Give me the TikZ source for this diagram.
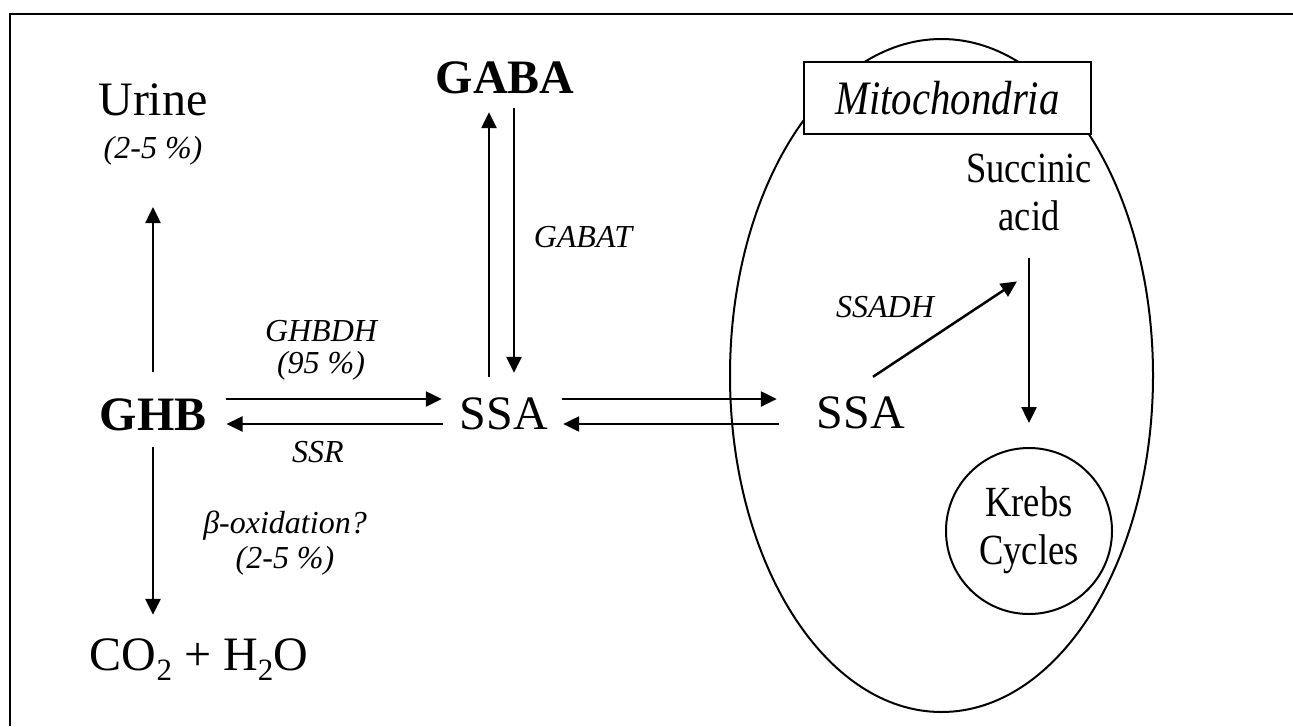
\documentclass[tikz,border=0pt]{standalone}
\usepackage{fontspec}
\setmainfont{Liberation Serif}
\usepackage{graphicx}
\usetikzlibrary{arrows.meta,calc}
\tikzset{
  big/.style={font=\fontsize{48}{52}\selectfont, inner sep=0pt, text height=32pt, text depth=0pt},
  lbl/.style={font=\fontsize{32}{32}\selectfont\itshape, inner sep=0pt},
  arr/.style={line width=2.5pt, -{Triangle[length=16pt,width=15pt]}},
}
\newcommand{\sqz}[1]{\scalebox{0.85}[1]{#1}}
\begin{document}
\begin{tikzpicture}[x=1pt,y=-1pt]
\useasboundingbox (0,0) rectangle (1293,726);
% frame
\draw[line width=2.5pt] (10,726) -- (10,14) -- (1293,14);
% mitochondrion
\draw[line width=2pt] (941.5,375.5) ellipse [x radius=211.5, y radius=336.5];
\node[draw, fill=white, line width=2.5pt, minimum width=287pt, minimum height=72pt, inner sep=0pt,
      font=\fontsize{48}{52}\selectfont\itshape] (mitobox) at (947.5,98) {\sqz{Mitochondria}};

% main nodes
\node[big, anchor=base] (urine) at (153,115) {Urine};
\node[lbl, anchor=base] (urinepct) at (153,158) {(2-5 \%)};
\node[big, anchor=base, font=\fontsize{48}{52}\selectfont\bfseries] (ghb) at (153,430) {GHB};
\node[big, anchor=base] (co2) at (199,670) {CO\raisebox{-0.22em}{\fontsize{31}{31}\selectfont 2} + H\raisebox{-0.22em}{\fontsize{31}{31}\selectfont 2}O};
\node[big, anchor=base, font=\fontsize{48}{52}\selectfont\bfseries] (gaba) at (505,93) {GABA};
\node[big, anchor=base] (ssa1) at (504,429) {SSA};
\node[big, anchor=base] (ssa2) at (861,428) {SSA};
\node[inner sep=0pt, anchor=north, font=\fontsize{43}{48}\selectfont] (succ) at (1029,148.4)
  {\sqz{\begin{tabular}{@{}c@{}}Succinic\\acid\end{tabular}}};
\node[draw, circle, line width=2pt, minimum size=166pt, inner sep=0pt, font=\fontsize{43}{48}\selectfont] (krebs) at (1029,531)
  {\sqz{\begin{tabular}{@{}c@{}}Krebs\\Cycles\end{tabular}}};

% labels
\node[lbl, anchor=north] (ghbdh) at (321,318.6) {\begin{tabular}{@{}c@{}}GHBDH\\(95 \%)\end{tabular}};
\node[lbl, anchor=base] (ssr) at (318,462) {SSR};
\node[lbl, anchor=north, font=\fontsize{32}{35}\selectfont\itshape] (beta) at (285,508.5) {\begin{tabular}{@{}c@{}}β-oxidation?\\(2-5 \%)\end{tabular}};
\node[lbl, anchor=base] (gabat) at (583,247) {GABAT};
\node[lbl, anchor=base] (ssadh) at (885,317) {SSADH};

% connectors
\draw[arr] ($(ghb.north)+(0,-26)$) -- ($(urinepct.base)+(0,49)$);
\draw[arr] ($(ghb.south)+(0,17)$) -- ($(ghb.south |- co2.north)+(0,-23)$);
\draw[arr] ($(ghb.east)+(19,-15)$) -- ($(ssa1.west)+(-18,-14)$);
\draw[arr] ($(ssa1.west)+(-17,11)$) -- ($(ghb.east)+(20,10)$);
\draw[arr] ($(ssa1.north)+(-15,-20)$) -- ($(gaba.south)+(-16,19)$);
\draw[arr] ($(gaba.south)+(9,15)$) -- ($(ssa1.north)+(10,-24)$);
\draw[arr] ($(ssa1.east)+(14,-14)$) -- ($(ssa2.west)+(-40,-13)$);
\draw[arr] ($(ssa2.west)+(-38,12)$) -- ($(ssa1.east)+(15,11)$);
\draw[arr] ($(ssa2.north)+(12,-19)$) -- ($(succ.south)+(-12,36.6)$);
\draw[arr] ($(succ.south)+(0,13)$) -- ($(krebs.north)+(0,-24)$);
\end{tikzpicture}
\end{document}
